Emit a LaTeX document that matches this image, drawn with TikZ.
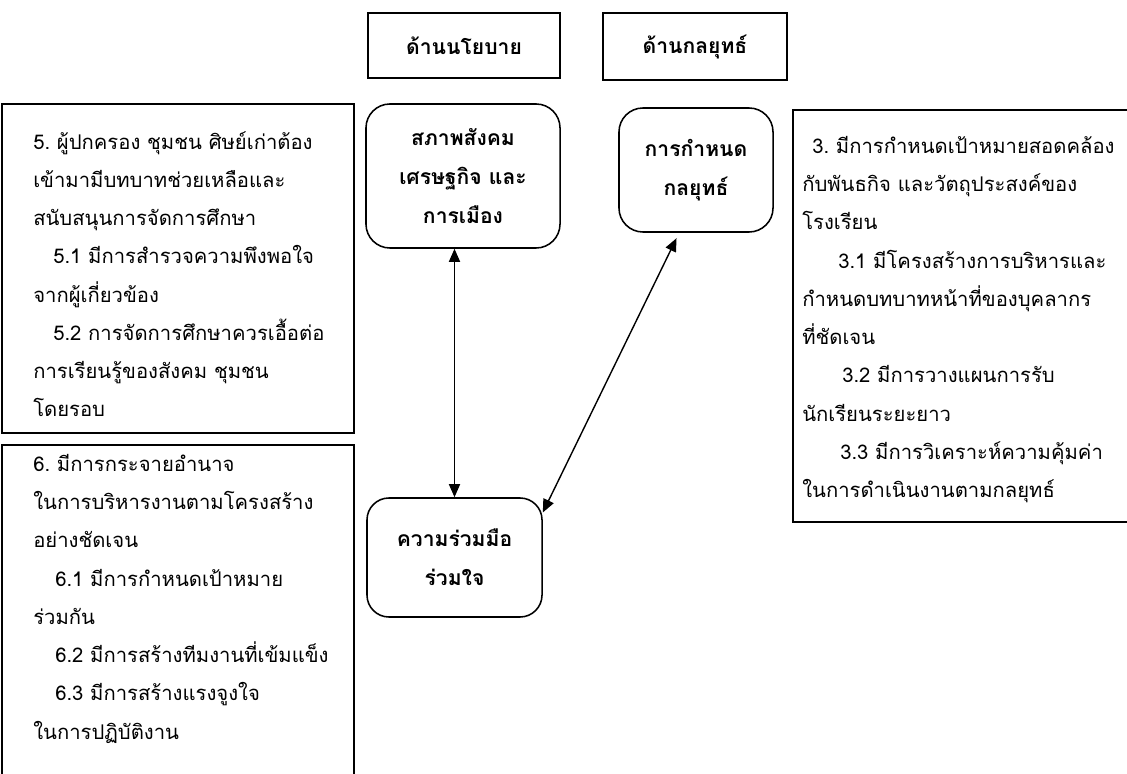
\documentclass[tikz,border=0pt]{standalone}
\usepackage{fontspec}
\setmainfont[Script=Thai]{Loma}
\usetikzlibrary{arrows.meta}

\begin{document}
\begin{tikzpicture}[x=0.025cm, y=-0.025cm,
	headbox/.style={draw, line width=0.9pt, inner sep=0, font=\bfseries\fontsize{15}{27}\selectfont},
	roundbox/.style={draw, line width=1.1pt, rounded corners=0.6cm, align=center, inner sep=0, font=\bfseries\fontsize{15}{27.5}\selectfont},
	listtext/.style={anchor=north west, align=left, inner sep=0, font=\fontsize{14.4}{27.2}\selectfont},
	link/.style={line width=1pt, {Triangle[length=0.33cm,width=0.28cm]}-{Triangle[length=0.33cm,width=0.28cm]}}]
			%%%%% START %%%%%
			\useasboundingbox (0,0) rectangle (1127,774);
			
			% heads
			\node[headbox, minimum width=4.8cm, minimum height=1.625cm] (policy) at (464,45.5) {ด้านนโยบาย};
			\node[headbox, minimum width=4.6cm, minimum height=1.675cm] (strategy) at (695,46.5) {ด้านกลยุทธ์};
			
			% rounded boxes
			\node[roundbox, minimum width=4.85cm, minimum height=3.6cm] (social) at (463,176) {สภาพสังคม\\เศรษฐกิจ และ\\การเมือง};
			\node[roundbox, minimum width=3.85cm, minimum height=3.1cm] (plan) at (696,170) {การกำหนด\\กลยุทธ์};
			\node[roundbox, minimum width=4.375cm, minimum height=2.975cm, rounded corners=0.55cm] (coop) at (454.5,557.5) {ความร่วมมือ\\ร่วมใจ};
			
			% left and right boxes
			\draw[line width=0.9pt] (2,104) rectangle (354,433);
			\node[listtext] (parents) at (33,131) {5.~ผู้ปกครอง ชุมชน ศิษย์เก่าต้อง\\
				เข้ามามีบทบาทช่วยเหลือและ\\
				สนับสนุนการจัดการศึกษา\\
				\hspace*{0.5cm}5.1 มีการสำรวจความพึงพอใจ\\
				จากผู้เกี่ยวข้อง\\
				\hspace*{0.5cm}5.2 การจัดการศึกษาควรเอื้อต่อ\\
				การเรียนรู้ของสังคม ชุมชน\\
				โดยรอบ};
			
			\draw[line width=0.9pt] (2,800) -- (2,445) -- (354,445) -- (354,800);
			\node[listtext] (power) at (33,454) {6.~มีการกระจายอำนาจ\\
				ในการบริหารงานตามโครงสร้าง\\
				อย่างชัดเจน\\
				\hspace*{0.55cm}6.1 มีการกำหนดเป้าหมาย\\
				ร่วมกัน\\
				\hspace*{0.55cm}6.2 มีการสร้างทีมงานที่เข้มแข็ง\\
				\hspace*{0.55cm}6.3 มีการสร้างแรงจูงใจ\\
				ในการปฏิบัติงาน};
			
			\draw[line width=0.9pt] (1140,110) -- (793,110) -- (793,522) -- (1140,522);
			\node[listtext] (goal) at (802,136) {\hspace*{0.25cm}3.~มีการกำหนดเป้าหมายสอดคล้อง\\
				กับพันธกิจ และวัตถุประสงค์ของ\\
				โรงเรียน\\
				\hspace*{0.9cm}3.1 มีโครงสร้างการบริหารและ\\
				กำหนดบทบาทหน้าที่ของบุคลากร\\
				ที่ชัดเจน\\
				\hspace*{1cm}3.2 มีการวางแผนการรับ\\
				นักเรียนระยะยาว\\
				\hspace*{0.95cm}3.3 มีการวิเคราะห์ความคุ้มค่า\\
				ในการดำเนินงานตามกลยุทธ์};
			
			% arrows
			\draw[link] (social.south -| coop.north) -- (coop.north);
			\draw[link, shorten >=0.15cm] (coop.27) -- (plan.255);
			
			%%%%% END %%%%%
\end{tikzpicture}
\end{document}
